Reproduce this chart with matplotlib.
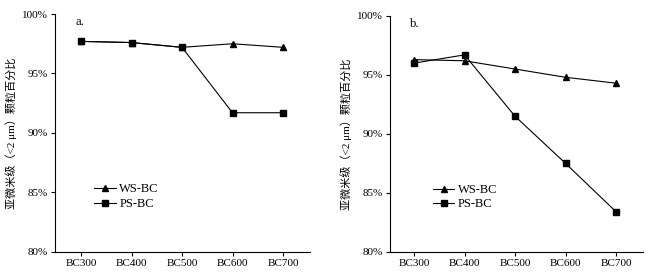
import numpy as np
import matplotlib.pyplot as plt
from matplotlib.ticker import FuncFormatter

plt.rcParams['font.family'] = ['Liberation Serif', 'Noto Sans CJK SC']

# data
categories = ['BC300', 'BC400', 'BC500', 'BC600', 'BC700']
ws_a = [97.7, 97.6, 97.2, 97.5, 97.2]
ps_a = [97.7, 97.6, 97.2, 91.7, 91.7]
ws_b = [96.3, 96.2, 95.5, 94.8, 94.3]
ps_b = [96.0, 96.7, 91.5, 87.5, 83.4]
yticks = [80, 85, 90, 95, 100]
ylabel = '亚微米级（<2 μm）颗粒百分比'


def draw_panel(ax, ws, ps, tag, xlim, leg_x):
    x = np.arange(len(categories))
    ax.plot(x, ws, '-^', color='black', lw=0.8, ms=4.5, label='WS-BC')
    ax.plot(x, ps, '-s', color='black', lw=0.8, ms=4.5, label='PS-BC')
    ax.set_xlim(*xlim)
    ax.set_ylim(80, 100)
    ax.set_xticks(x)
    ax.set_xticklabels(categories)
    ax.set_yticks(yticks)
    ax.yaxis.set_major_formatter(FuncFormatter(lambda v, p: '%d%%' % v))
    ax.spines['top'].set_visible(False)
    ax.spines['right'].set_visible(False)
    for s in ('left', 'bottom'):
        ax.spines[s].set_linewidth(0.8)
    ax.tick_params(direction='out', length=3, width=0.8, labelsize=8, pad=2)
    ax.set_ylabel(ylabel, fontsize=8, labelpad=4)
    ax.text(0.08, 0.965, tag, transform=ax.transAxes, fontsize=9, va='center')
    ax.legend(loc='center left', bbox_to_anchor=(leg_x, 0.232), frameon=False,
              fontsize=9, handlelength=1.7, handletextpad=0.3,
              labelspacing=0.2, borderaxespad=0)


fig = plt.figure(figsize=(6.5, 2.75), dpi=100)
ax1 = fig.add_axes([0.0846, 0.084, 0.392, 0.865])
ax2 = fig.add_axes([0.600, 0.084, 0.389, 0.858])

draw_panel(ax1, ws_a, ps_a, 'a.', (-0.515, 4.53), 0.135)
draw_panel(ax2, ws_b, ps_b, 'b.', (-0.475, 4.53), 0.15)

fig.savefig('out.png', dpi=100)
